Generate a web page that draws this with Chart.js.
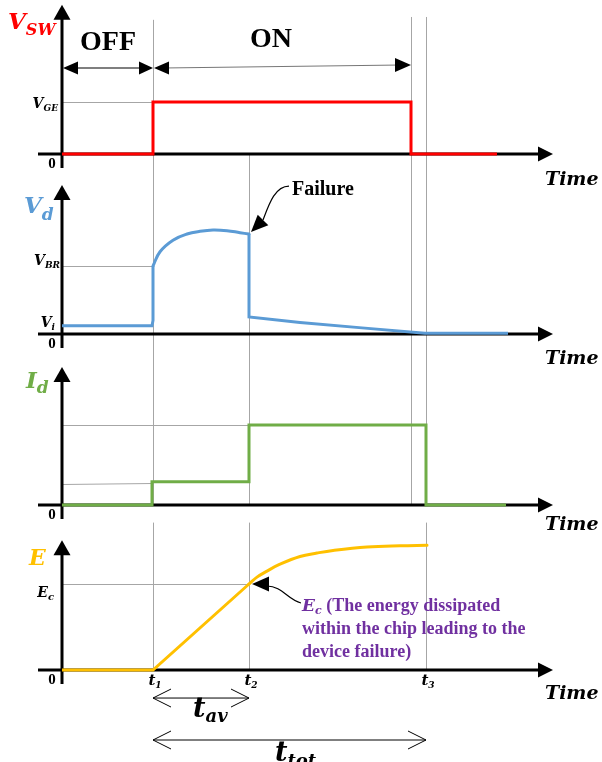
<!DOCTYPE html>
<html><head><meta charset="utf-8">
<script src="https://cdn.jsdelivr.net/npm/chart.js@4/dist/chart.umd.min.js"></script>
<style>html,body{margin:0;padding:0;background:#fff}#wrap{width:602px;height:762px}</style>
</head><body><div id="wrap"><canvas id="c" width="602" height="762"></canvas></div>
<script>
// ---------- data (time in arbitrary units, values normalised to each panel's reference level) ----------
const tickTimes = [9.1, 18.7, 36.4];          // t1, t2, t3
const tickNames = ['1', '2', '3'];
const tGateOff = 34.9;                          // gate turned off

const vswX = [0, 9.1, 9.1, 34.9, 34.9, 43.5];
const vswY = [0, 0, 1, 1, 0, 0];                // 1 = V_GE

const vdRiseX = [0, 9.0, 9.1, 9.1];
const vdRiseY = [0.12, 0.12, 0.2, 1.0];          // 0.12 = V_i , 1 = V_BR
const vdArcX = [9.1, 9.8, 11.1, 12.5, 13.8, 15.1, 16.5, 17.8, 18.7];
const vdArcY = [1.0, 1.21, 1.38, 1.47, 1.51, 1.53, 1.52, 1.49, 1.47];
const vdFallX = [18.7, 18.7, 23.8, 30.0, 36.3, 44.6];
const vdFallY = [1.47, 0.25, 0.17, 0.09, 0.01, 0.01];

const idX = [0, 9.0, 9.0, 18.7, 18.7, 36.4, 36.4, 44.4];
const idY = [0, 0, 0.29, 0.29, 1, 1, 0, 0];      // 1 = peak current

const eRampX = [0, 9.1, 18.7];
const eRampY = [0, 0, 1];                        // 1 = E_c
const eSatX = [18.7, 19.5, 20.5, 21.8, 23.8, 25.5, 27.1, 30.5, 33.8, 36.5];
const eSatY = [1, 1.08, 1.15, 1.23, 1.32, 1.36, 1.39, 1.43, 1.445, 1.45];

// ---------- layout / style ----------
const W = 602, H = 762;
const X0 = 62, PX_PER_T = 10;
const panels = [
  {id: 'ySW', zero: 154, unit: 52, tip: 2.87, timeDy: 31},
  {id: 'yVd', zero: 334, unit: 68, tip: 2.19, timeDy: 30},
  {id: 'yId', zero: 505, unit: 80, tip: 1.725, timeDy: 25},
  {id: 'yE',  zero: 670, unit: 86, tip: 1.51, timeDy: 29}
];
const RED = '#ff0000', BLUE = '#5b9bd5', GREEN = '#70ad47', ORANGE = '#ffc000', PURPLE = '#7030a0', GUIDE = '#a6a6a6';
const MATH = '"DejaVu Serif", serif';
const TXT = '"Liberation Serif", "Times New Roman", serif';

function ds(xs, ys, yid, color, tension) {
  return {data: xs.map((x, i) => ({x: x, y: ys[i]})), xAxisID: 'x', yAxisID: yid,
    borderColor: color, borderWidth: 3, pointRadius: 0, tension: tension, fill: false,
    borderJoinStyle: 'miter', borderCapStyle: tension ? 'round' : 'butt'};
}

function rich(ctx, parts, x, y, align, color) {
  let w = 0;
  parts.forEach(p => { ctx.font = p[1]; w += ctx.measureText(p[0]).width; });
  let cx = align === 'right' ? x - w : align === 'center' ? x - w / 2 : x;
  ctx.fillStyle = color; ctx.textAlign = 'left'; ctx.textBaseline = 'alphabetic';
  parts.forEach(p => { ctx.font = p[1]; ctx.fillText(p[0], cx, y + (p[2] || 0)); cx += ctx.measureText(p[0]).width; });
}
function seg(ctx, x1, y1, x2, y2) { ctx.beginPath(); ctx.moveTo(x1, y1); ctx.lineTo(x2, y2); ctx.stroke(); }
function head(ctx, tx, ty, ang, len, hw) {
  const c = Math.cos(ang), s = Math.sin(ang);
  ctx.beginPath(); ctx.moveTo(tx, ty);
  ctx.lineTo(tx - len * c - hw * s, ty - len * s + hw * c);
  ctx.lineTo(tx - len * c + hw * s, ty - len * s - hw * c);
  ctx.closePath(); ctx.fill();
}
function chevron(ctx, tx, ty, dir, len, hw) {
  ctx.beginPath(); ctx.moveTo(tx + dir * len, ty - hw); ctx.lineTo(tx, ty); ctx.lineTo(tx + dir * len, ty + hw); ctx.stroke();
}

const deco = {
  id: 'deco',
  beforeDatasetsDraw(chart) {
    const ctx = chart.ctx, xs = chart.scales.x;
    const X = v => xs.getPixelForValue(v);
    const Y = (id, v) => chart.scales[id].getPixelForValue(v);
    const r = v => Math.round(v) + 0.5;
    ctx.save();
    // vertical guides
    ctx.strokeStyle = GUIDE; ctx.lineWidth = 1;
    const t1 = tickTimes[0], t2 = tickTimes[1], t3 = tickTimes[2];
    seg(ctx, r(X(t1)), Y('ySW', 2.58), r(X(t1)), Y('yId', 0));
    seg(ctx, r(X(t1)), Y('yId', -0.22), r(X(t1)), Y('yE', 0));
    seg(ctx, r(X(t2)), Y('ySW', 0), r(X(t2)), Y('yId', 0));
    seg(ctx, r(X(t2)), Y('yId', -0.22), r(X(t2)), Y('yE', 0));
    seg(ctx, r(X(tGateOff)), Y('ySW', 2.635), r(X(tGateOff)), Y('yId', 0));
    seg(ctx, r(X(t3)), Y('ySW', 2.635), r(X(t3)), Y('yId', 0));
    seg(ctx, r(X(t3)), Y('yId', -0.22), r(X(t3)), Y('yE', 0));
    // horizontal reference guides
    seg(ctx, X(0), r(Y('ySW', 1)), X(t1), r(Y('ySW', 1)));
    seg(ctx, X(0), r(Y('yVd', 1)), X(t1), r(Y('yVd', 1)));
    seg(ctx, X(0), r(Y('yId', 1)), X(t3), r(Y('yId', 1)));
    seg(ctx, X(0), r(Y('yId', 0.26)), X(t1), r(Y('yId', 0.28)));
    seg(ctx, X(0), r(Y('yE', 1)), X(t2), r(Y('yE', 1)));
    // axes
    ctx.strokeStyle = '#000'; ctx.fillStyle = '#000'; ctx.lineWidth = 3;
    panels.forEach(p => {
      const z = Y(p.id, 0), ox = X(0), tip = Y(p.id, p.tip);
      seg(ctx, X(-2.4), z, X(47.6), z);
      head(ctx, X(49.1), z, 0, 15, 7.5);
      seg(ctx, ox, z + 14, ox, tip + 12);
      head(ctx, ox, tip, -Math.PI / 2, 15, 8.5);
    });
    ctx.restore();
  },
  afterDatasetsDraw(chart) {
    const ctx = chart.ctx, xs = chart.scales.x;
    const X = v => xs.getPixelForValue(v);
    const Y = (id, v) => chart.scales[id].getPixelForValue(v);
    const t1 = tickTimes[0], t2 = tickTimes[1], t3 = tickTimes[2];
    ctx.save();
    // axis titles
    rich(ctx, [['V', 'bold italic 23px ' + MATH], ['SW', 'bold italic 16px ' + MATH, 6]], 8, 29, 'left', RED);
    rich(ctx, [['V', 'bold italic 23px ' + MATH], ['d', 'bold italic 17px ' + MATH, 7]], 24, 213, 'left', BLUE);
    rich(ctx, [['I', 'bold italic 23px ' + MATH], ['d', 'bold italic 17px ' + MATH, 5]], 26, 388, 'left', GREEN);
    rich(ctx, [['E', 'bold italic 22px ' + MATH]], 29, 565, 'left', ORANGE);
    // "Time" labels and zeros
    panels.forEach(p => {
      const z = Y(p.id, 0);
      rich(ctx, [['Time', 'bold italic 19px ' + MATH]], 545, z + p.timeDy, 'left', '#000');
      rich(ctx, [['0', 'bold 15px ' + TXT]], 52, z + 14, 'center', '#000');
    });
    // tick labels
    rich(ctx, [['V', 'bold italic 14px ' + MATH], ['GE', 'bold italic 9px ' + MATH, 3]], 58, Y('ySW', 1) + 6, 'right', '#000');
    rich(ctx, [['V', 'bold italic 14px ' + MATH], ['BR', 'bold italic 9px ' + MATH, 3]], 60, Y('yVd', 1) - 1, 'right', '#000');
    rich(ctx, [['V', 'bold italic 14px ' + MATH], ['i', 'bold italic 9px ' + MATH, 3]], 55, Y('yVd', 0.12) + 1, 'right', '#000');
    rich(ctx, [['E', 'bold italic 14px ' + MATH], ['c', 'bold italic 10px ' + MATH, 3]], 54, Y('yE', 1) + 13, 'right', '#000');
    tickTimes.forEach((t, i) => {
      rich(ctx, [['t', 'bold italic 15px ' + MATH], [tickNames[i], 'bold italic 9px ' + MATH, 3]], X(t) + 2, Y('yE', 0) + 15, 'center', '#000');
    });
    // OFF / ON
    rich(ctx, [['OFF', 'bold 28px ' + TXT]], X(1.8), Y('ySW', 2.0), 'left', '#000');
    rich(ctx, [['ON', 'bold 28px ' + TXT]], X(18.8), Y('ySW', 2.06), 'left', '#000');
    ctx.fillStyle = '#000'; ctx.strokeStyle = '#000'; ctx.lineWidth = 1.2;
    const ay = Y('ySW', 1.654);
    seg(ctx, X(0) + 10, ay, X(t1) - 10, ay);
    head(ctx, X(0) + 1, ay, Math.PI, 15, 6.5);
    head(ctx, X(t1), ay, 0, 14, 6.5);
    ctx.strokeStyle = '#777';
    seg(ctx, X(t1) + 10, ay, X(tGateOff) - 10, ay - 3);
    head(ctx, X(t1) + 1, ay, Math.PI, 15, 6.5);
    head(ctx, X(tGateOff), ay - 3, 0, 16, 7);
    // Failure annotation
    rich(ctx, [['Failure', 'bold 20px ' + TXT]], X(23.0), Y('yVd', 2.044), 'left', '#000');
    const fx = X(t2) + 2, fy = Y('yVd', 1.47) - 2;
    ctx.strokeStyle = '#000'; ctx.lineWidth = 1.2;
    ctx.beginPath(); ctx.moveTo(fx + 38, fy - 46);
    ctx.bezierCurveTo(fx + 24, fy - 46, fx + 18, fy - 28, fx + 12, fy - 12); ctx.stroke();
    head(ctx, fx, fy, Math.atan2(12, -12), 17, 7.5);
    // E_c annotation
    const ex = X(t2) + 3, ey = Y('yE', 1);
    ctx.beginPath(); ctx.moveTo(ex + 15, ey + 2);
    ctx.bezierCurveTo(ex + 30, ey + 2, ex + 36, ey + 16, ex + 49, ey + 19); ctx.stroke();
    head(ctx, ex, ey, Math.PI, 17, 7.5);
    rich(ctx, [['E', 'bold italic 17px ' + MATH], ['c', 'bold italic 11px ' + MATH, 3], [' (The energy dissipated', 'bold 18px ' + TXT]], X(24.0), Y('yE', 0.686), 'left', PURPLE);
    rich(ctx, [['within the chip leading to the', 'bold 18px ' + TXT]], X(24.0), Y('yE', 0.419), 'left', PURPLE);
    rich(ctx, [['device failure)', 'bold 18px ' + TXT]], X(24.0), Y('yE', 0.151), 'left', PURPLE);
    // t_av and t_tot
    ctx.strokeStyle = '#000'; ctx.lineWidth = 1;
    const avY = Y('yE', -0.326), totY = Y('yE', -0.814);
    seg(ctx, X(t1), avY, X(t2), avY); chevron(ctx, X(t1), avY, 1, 18, 9); chevron(ctx, X(t2), avY, -1, 18, 9);
    seg(ctx, X(t1), totY, X(t3), totY); chevron(ctx, X(t1), totY, 1, 18, 9); chevron(ctx, X(t3), totY, -1, 18, 9);
    rich(ctx, [['t', 'bold italic 27px ' + MATH], ['av', 'bold italic 18px ' + MATH, 5]], X(13.1), Y('yE', -0.547), 'left', '#000');
    rich(ctx, [['t', 'bold italic 27px ' + MATH], ['tot', 'bold italic 18px ' + MATH, 6]], X(21.3), Y('yE', -1.06), 'left', '#000');
    ctx.restore();
  }
};

const yScales = {};
panels.forEach(p => { yScales[p.id] = {type: 'linear', display: false, min: -(H - p.zero) / p.unit, max: p.zero / p.unit}; });

new Chart(document.getElementById('c'), {
  type: 'line',
  data: {datasets: [
    ds(vswX, vswY, 'ySW', RED, 0),
    ds(vdRiseX, vdRiseY, 'yVd', BLUE, 0),
    ds(vdArcX, vdArcY, 'yVd', BLUE, 0.4),
    ds(vdFallX, vdFallY, 'yVd', BLUE, 0),
    ds(idX, idY, 'yId', GREEN, 0),
    ds(eRampX, eRampY, 'yE', ORANGE, 0),
    ds(eSatX, eSatY, 'yE', ORANGE, 0.4)
  ]},
  options: {
    responsive: false, animation: false, events: [],
    layout: {padding: 0},
    plugins: {legend: {display: false}, tooltip: {enabled: false}, title: {display: false}},
    scales: Object.assign({x: {type: 'linear', display: false, min: -X0 / PX_PER_T, max: (W - X0) / PX_PER_T}}, yScales)
  },
  plugins: [deco]
});
</script>
</body></html>
